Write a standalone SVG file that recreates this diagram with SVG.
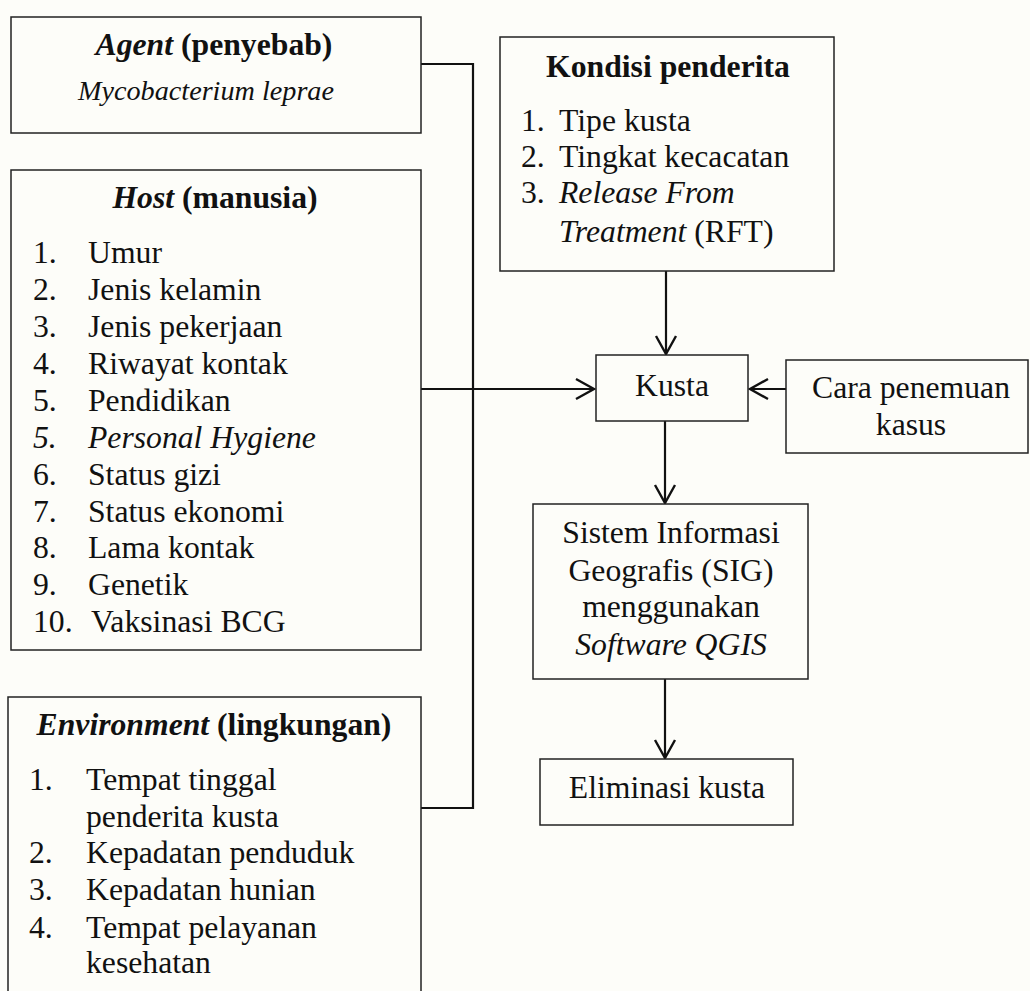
<svg xmlns="http://www.w3.org/2000/svg" width="1030" height="991" viewBox="0 0 1030 991">
<style>
.box{fill:#fdfdf9;stroke:#222;stroke-width:1.5}
.t{font-family:"Liberation Serif","Times New Roman",serif;font-size:31.7px;fill:#111}
.sm{font-size:28.2px}
.c{text-anchor:middle}
.b{font-weight:bold}
.i{font-style:italic}
.ln{fill:none;stroke:#111;stroke-width:2.2}
</style>
<defs>
<marker id="arr" markerUnits="userSpaceOnUse" markerWidth="22" markerHeight="24" viewBox="0 0 22 24" refX="20" refY="12" orient="auto">
<path d="M2,2 L20,12 L2,22" fill="none" stroke="#111" stroke-width="2.4"/>
</marker>
</defs>
<rect width="1030" height="991" fill="#fdfdf9"/>

<g id="connectors">
<polyline class="ln" points="421,64 473,64 473,808 421,808"/>
<line class="ln" x1="421" y1="389" x2="594" y2="389" marker-end="url(#arr)"/>
<line class="ln" x1="666" y1="271" x2="666" y2="354" marker-end="url(#arr)"/>
<line class="ln" x1="786" y1="389" x2="750" y2="389" marker-end="url(#arr)"/>
<line class="ln" x1="665" y1="421" x2="665" y2="503" marker-end="url(#arr)"/>
<line class="ln" x1="665" y1="679" x2="665" y2="758" marker-end="url(#arr)"/>
</g>

<g id="agent">
<rect class="box" x="11" y="17" width="410" height="116"/>
<text class="t c b" x="214" y="55"><tspan class="i">Agent</tspan> (penyebab)</text>
<text class="t sm c i" x="206" y="100">Mycobacterium leprae</text>
</g>

<g id="host">
<rect class="box" x="11" y="170" width="410" height="480"/>
<text class="t c b" x="215" y="208"><tspan class="i">Host</tspan> (manusia)</text>
<text class="t" x="33" y="263">1.</text><text class="t" x="88" y="263">Umur</text>
<text class="t" x="33" y="300">2.</text><text class="t" x="88" y="300">Jenis kelamin</text>
<text class="t" x="33" y="337">3.</text><text class="t" x="88" y="337">Jenis pekerjaan</text>
<text class="t" x="33" y="374">4.</text><text class="t" x="88" y="374">Riwayat kontak</text>
<text class="t" x="33" y="411">5.</text><text class="t" x="88" y="411">Pendidikan</text>
<text class="t i" x="33" y="448">5.</text><text class="t i" x="88" y="448">Personal Hygiene</text>
<text class="t" x="33" y="485">6.</text><text class="t" x="88" y="485">Status gizi</text>
<text class="t" x="33" y="522">7.</text><text class="t" x="88" y="522">Status ekonomi</text>
<text class="t" x="33" y="558">8.</text><text class="t" x="88" y="558">Lama kontak</text>
<text class="t" x="33" y="595">9.</text><text class="t" x="88" y="595">Genetik</text>
<text class="t" x="33" y="632">10.</text><text class="t" x="91" y="632">Vaksinasi BCG</text>
</g>

<g id="environment">
<rect class="box" x="8" y="697" width="413" height="310"/>
<text class="t c b" x="214" y="735"><tspan class="i">Environment</tspan> (lingkungan)</text>
<text class="t" x="29" y="790">1.</text><text class="t" x="86" y="790">Tempat tinggal</text>
<text class="t" x="86" y="827">penderita kusta</text>
<text class="t" x="29" y="863">2.</text><text class="t" x="86" y="863">Kepadatan penduduk</text>
<text class="t" x="29" y="900">3.</text><text class="t" x="86" y="900">Kepadatan hunian</text>
<text class="t" x="29" y="938">4.</text><text class="t" x="86" y="938">Tempat pelayanan</text>
<text class="t" x="86" y="973">kesehatan</text>
</g>

<g id="kondisi">
<rect class="box" x="500" y="37" width="334" height="234"/>
<text class="t c b" x="668" y="77">Kondisi penderita</text>
<text class="t" x="521" y="131">1.</text><text class="t" x="559" y="131">Tipe kusta</text>
<text class="t" x="521" y="167">2.</text><text class="t" x="559" y="167">Tingkat kecacatan</text>
<text class="t" x="521" y="203">3.</text><text class="t i" x="559" y="203">Release From</text>
<text class="t" x="559" y="242"><tspan class="i">Treatment</tspan> (RFT)</text>
</g>

<g id="kusta">
<rect class="box" x="596" y="355" width="152" height="66"/>
<text class="t c" x="672" y="396">Kusta</text>
</g>

<g id="cara">
<rect class="box" x="786" y="360" width="242" height="93"/>
<text class="t c" x="911" y="398">Cara penemuan</text>
<text class="t c" x="911" y="435">kasus</text>
</g>

<g id="sig">
<rect class="box" x="533" y="504" width="275" height="175"/>
<text class="t c" x="671" y="543">Sistem Informasi</text>
<text class="t c" x="671" y="581">Geografis (SIG)</text>
<text class="t c" x="671" y="617">menggunakan</text>
<text class="t c i" x="671" y="655">Software QGIS</text>
</g>

<g id="eliminasi">
<rect class="box" x="540" y="759" width="253" height="66"/>
<text class="t c" x="667" y="798">Eliminasi kusta</text>
</g>
</svg>
